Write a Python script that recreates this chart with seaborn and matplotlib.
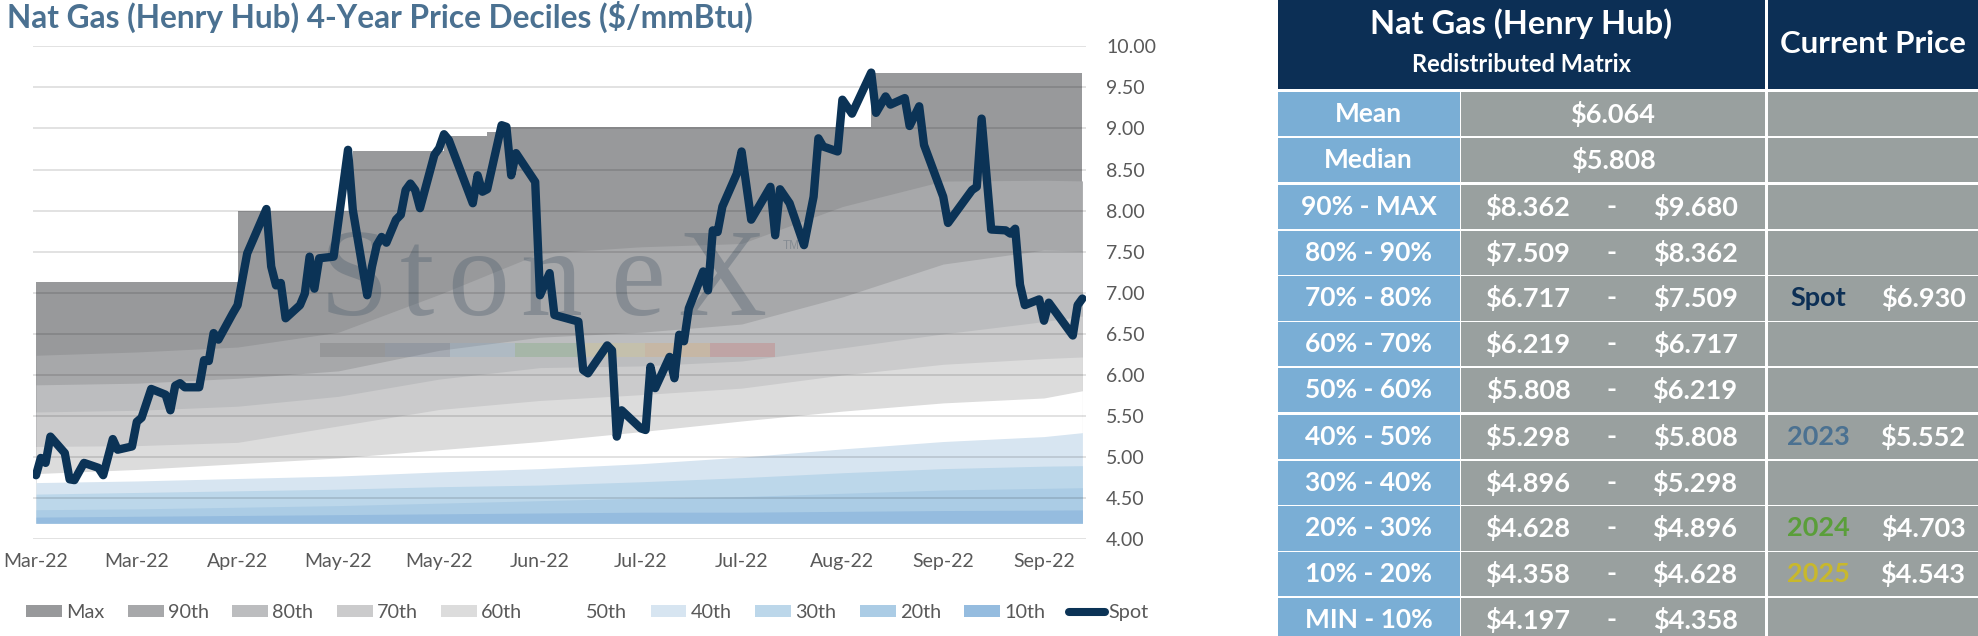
import numpy as np
import matplotlib
matplotlib.use("Agg")
import matplotlib.pyplot as plt
from matplotlib.patches import Rectangle, Patch
from matplotlib.lines import Line2D
from matplotlib.transforms import Affine2D
import seaborn as sns

# ---------------- data ----------------
title = "Nat Gas (Henry Hub) 4-Year Price Deciles ($/mmBtu)"

tick_days = [0, 21, 42, 63, 84, 105, 126, 147, 168, 189, 210]
tick_labels = ["Mar-22", "Mar-22", "Apr-22", "May-22", "May-22", "Jun-22",
               "Jul-22", "Jul-22", "Aug-22", "Sep-22", "Sep-22"]
y_ticks = [4.0, 4.5, 5.0, 5.5, 6.0, 6.5, 7.0, 7.5, 8.0, 8.5, 9.0, 9.5, 10.0]

band_days = [0, 21, 42, 63, 84, 105, 126, 147, 168, 189, 210, 218]
p90 = [6.24, 6.28, 6.34, 6.52, 6.98, 7.48, 7.56, 7.60, 8.05, 8.36, 8.37, 8.362]
p80 = [5.88, 5.90, 5.96, 6.05, 6.30, 6.46, 6.52, 6.62, 6.95, 7.35, 7.52, 7.509]
p70 = [5.55, 5.57, 5.62, 5.74, 5.95, 6.09, 6.11, 6.17, 6.33, 6.50, 6.65, 6.717]
p60 = [5.13, 5.14, 5.18, 5.38, 5.58, 5.69, 5.76, 5.84, 6.00, 6.13, 6.20, 6.219]
p50 = [4.80, 4.85, 4.92, 4.99, 5.09, 5.19, 5.31, 5.44, 5.56, 5.66, 5.72, 5.808]
p40 = [4.69, 4.71, 4.74, 4.77, 4.82, 4.86, 4.92, 5.00, 5.10, 5.19, 5.25, 5.298]
p30 = [4.55, 4.57, 4.59, 4.61, 4.64, 4.66, 4.70, 4.75, 4.81, 4.86, 4.89, 4.896]
p20 = [4.36, 4.37, 4.39, 4.41, 4.44, 4.47, 4.50, 4.52, 4.56, 4.60, 4.62, 4.628]
p10 = [4.27, 4.28, 4.29, 4.30, 4.31, 4.32, 4.33, 4.33, 4.34, 4.35, 4.355, 4.358]
p_min = [4.197, 4.197, 4.197, 4.197, 4.197, 4.197, 4.197, 4.197, 4.197, 4.197, 4.197, 4.197]

max_days = [0, 42, 66, 85, 94, 96, 174, 218]
max_vals = [7.13, 8.00, 8.73, 8.91, 8.96, 9.02, 9.68, 9.68]

spot_days = [0, 1, 2, 3, 6, 7, 8, 10, 13, 14,
             16, 17, 20, 21, 22, 24, 27, 28, 29, 30,
             31, 34, 35, 36, 37, 38, 41, 42, 44, 48,
             49, 50, 51, 52, 55, 56, 57, 58, 59, 62,
             65, 66, 69, 70, 71, 72, 73, 75, 76, 77,
             78, 79, 80, 83, 84, 85, 86, 91, 92, 93,
             94, 97, 98, 99, 100, 104, 105, 107, 108, 113,
             114, 115, 119, 120, 121, 122, 126, 127, 128, 129,
             132, 133, 134, 135, 136, 139, 140, 141, 142, 143,
             146, 147, 149, 153, 154, 155, 157, 160, 162, 163,
             164, 167, 168, 170, 174, 175, 177, 178, 181, 182,
             184, 185, 189, 190, 195, 196, 197, 199, 202, 203,
             204, 205, 206, 209, 210, 211, 216, 217, 218]
spot_vals = [4.78, 4.99, 4.93, 5.25, 5.05, 4.73, 4.72, 4.93, 4.87, 4.78,
             5.22, 5.09, 5.13, 5.43, 5.48, 5.83, 5.76, 5.57, 5.87, 5.90,
             5.85, 5.85, 6.18, 6.17, 6.51, 6.43, 6.75, 6.85, 7.48, 8.02,
             7.32, 7.09, 7.12, 6.69, 6.85, 6.99, 7.44, 7.05, 7.42, 7.44,
             8.74, 8.01, 6.97, 7.32, 7.58, 7.68, 7.61, 7.89, 7.95, 8.25,
             8.33, 8.25, 8.03, 8.68, 8.76, 8.93, 8.86, 8.09, 8.43, 8.23,
             8.26, 9.04, 9.02, 8.43, 8.70, 8.35, 6.97, 7.24, 6.73, 6.65,
             6.06, 6.02, 6.36, 6.30, 5.25, 5.57, 5.35, 5.33, 6.10, 5.84,
             6.22, 5.96, 6.49, 6.41, 6.81, 7.26, 7.03, 7.76, 7.74, 8.05,
             8.45, 8.72, 7.89, 8.29, 7.70, 8.26, 8.09, 7.58, 8.17, 8.88,
             8.78, 8.72, 9.35, 9.18, 9.68, 9.19, 9.39, 9.29, 9.37, 9.03,
             9.27, 8.80, 8.17, 7.85, 8.25, 8.29, 9.12, 7.77, 7.76, 7.72,
             7.78, 7.10, 6.85, 6.92, 6.66, 6.88, 6.48, 6.85, 6.93]

legend_labels = ["Max", "90th", "80th", "70th", "60th", "50th",
                 "40th", "30th", "20th", "10th", "Spot"]

# table data
table_title = "Nat Gas (Henry Hub)"
table_subtitle = "Redistributed Matrix"
table_cur_title = "Current Price"
row_labels = ["Mean", "Median", "90% - MAX", "80% - 90%", "70% - 80%", "60% - 70%",
              "50% - 60%", "40% - 50%", "30% - 40%", "20% - 30%", "10% - 20%", "MIN - 10%"]
mean_value = 6.064
median_value = 5.808
range_low = [8.362, 7.509, 6.717, 6.219, 5.808, 5.298, 4.896, 4.628, 4.358, 4.197]
range_high = [9.680, 8.362, 7.509, 6.717, 6.219, 5.808, 5.298, 4.896, 4.628, 4.358]
current_names = ["Spot", "2023", "2024", "2025"]
current_values = [6.930, 5.552, 4.703, 4.543]
current_rows = ["70% - 80%", "40% - 50%", "20% - 30%", "10% - 20%"]
current_colors = ["#0c2f55", "#4b7191", "#5a9e3a", "#c8b82c"]

# ---------------- style ----------------
sns.set_theme(style="white")
plt.rcParams["font.family"] = ["Lato", "DejaVu Sans"]

W, H = 1978, 636
fig = plt.figure(figsize=(W / 100, H / 100), dpi=100)
fig.patch.set_facecolor("white")
px = Affine2D().scale(1.0 / W, -1.0 / H).translate(0, 1) + fig.transFigure

navy = "#0b3356"
grey_txt = "#595959"
c_max, c90, c80, c70, c60 = "#98999b", "#a7a8aa", "#bcbdbf", "#cbcbcc", "#dcdcdc"
c50 = "#ffffff"
c40, c30, c20, c10 = "#d7e5f1", "#bcd7ea", "#abcce5", "#95bcdf"

ax = fig.add_axes([33 / W, 1 - 539.3 / H, (1086 - 33) / W, (539.3 - 46.3) / H])
ax.set_facecolor("white")

# Max band (step series), then the decile layers painted on top
ax.fill_between(max_days, p_min[0], max_vals, step="post", color=c_max, lw=0, zorder=1)
layers = [(p90, c90), (p80, c80), (p70, c70), (p60, c60), (p50, c50),
          (p40, c40), (p30, c30), (p20, c20), (p10, c10)]
for vals, col in layers:
    ax.fill_between(band_days, p_min, vals, color=col, lw=0, zorder=1)

# watermark
wm_letters = ["S", "t", "o", "n", "e", "X"]
wm_x = [320, 400, 447, 520, 610, 677]
for ch, xx in zip(wm_letters, wm_x):
    ax.text(xx, 315, ch, transform=px, fontsize=89, family="Liberation Serif",
            color="#4d5d6c", alpha=0.36, ha="left", va="baseline", zorder=2)
ax.text(783, 249, "TM", transform=px, fontsize=8.5, family="Liberation Sans",
        color="#4d5d6c", alpha=0.36, ha="left", va="baseline", zorder=2)
bar_cols = ["#555555", "#4a5f80", "#7fb0d8", "#4f9a4f", "#e8d060", "#f0a040", "#d04040"]
for i, bc in enumerate(bar_cols):
    ax.add_patch(Rectangle((320 + 65 * i, 343), 65, 14, transform=px,
                           facecolor=bc, edgecolor="none", alpha=0.2, zorder=2))

# spot line
sns.lineplot(x=spot_days, y=spot_vals, ax=ax, color=navy, linewidth=6.0,
             legend=False, zorder=4)
ax.lines[-1].set_solid_joinstyle("round")
ax.lines[-1].set_solid_capstyle("round")

ax.set_xlim(-0.625, 218.75)
ax.set_ylim(4.0, 10.0)
ax.set_yticks(y_ticks)
ax.set_yticklabels([f"{v:.2f}" for v in y_ticks])
ax.yaxis.tick_right()
ax.set_xticks(tick_days)
ax.set_xticklabels(tick_labels)
ax.tick_params(axis="y", length=0, pad=14.5, labelsize=14, labelcolor=grey_txt)
ax.tick_params(axis="x", length=0, pad=10, labelsize=14, labelcolor=grey_txt)
ax.grid(axis="y", color="black", alpha=0.15, lw=1.1)
ax.grid(axis="x", visible=False)
ax.set_axisbelow(False)
for s in ax.spines.values():
    s.set_visible(False)
ax.set_xlabel("")
ax.set_ylabel("")

# legend
handles = [Patch(facecolor=c, edgecolor="none") for c in
           [c_max, c90, c80, c70, c60, c50, c40, c30, c20, c10]]
handles.append(Line2D([0], [0], color=navy, lw=5.8, solid_capstyle="round"))
fig.legend(handles, legend_labels, ncol=11, loc="center left",
           bbox_to_anchor=(26 / W, 1 - 612.7 / H), frameon=False, fontsize=14.3,
           handlelength=1.8, handleheight=0.55, handletextpad=0.2,
           columnspacing=1.2, borderaxespad=0, borderpad=0, labelcolor=grey_txt)

# title
fig.text(7 / W, 1 - 28 / H, title, fontsize=22.8, fontweight="bold",
         color="#4b7191", ha="left", va="baseline")

# ---------------- table ----------------
tax = fig.add_axes([1277 / W, 0, (W - 1277) / W, 1])
tax.set_xlim(1277, W)
tax.set_ylim(H, 0)
tax.axis("off")

hdr = "#0c2f55"
lab_blue = "#7aaed5"
val_grey = "#99a09f"
tax.add_patch(Rectangle((1277.5, 0), 1765 - 1277.5, 88.7, color=hdr, lw=0))
tax.add_patch(Rectangle((1768, 0), W - 1768, 88.7, color=hdr, lw=0))
tax.text(1521, 24, table_title, color="white", fontsize=23.5, fontweight="bold",
         ha="center", va="center")
tax.text(1521, 65, table_subtitle, color="white", fontsize=17, fontweight="bold",
         ha="center", va="center")
tax.text(1873, 44, table_cur_title, color="white", fontsize=22.5, fontweight="bold",
         ha="center", va="center")

row_h = 45.6
tfs = 19.5
for i, lab in enumerate(row_labels):
    top = 92 + i * row_h + (2 if i >= 2 else 0) + (2 if i >= 7 else 0)
    h = row_h - 1.5
    cy = top + h / 2
    tax.add_patch(Rectangle((1277.5, top), 182, h, color=lab_blue, lw=0))
    tax.add_patch(Rectangle((1461, top), 304, h, color=val_grey, lw=0))
    tax.add_patch(Rectangle((1768, top), W - 1768, h, color=val_grey, lw=0))
    tax.text(1368.5, cy, lab, color="white", fontsize=19, fontweight="bold",
             ha="center", va="center")
    if i == 0:
        tax.text(1613, cy, f"${mean_value:.3f}", color="white", fontsize=tfs,
                 fontweight="bold", ha="center", va="center")
    elif i == 1:
        tax.text(1613, cy, f"${median_value:.3f}", color="white", fontsize=tfs,
                 fontweight="bold", ha="center", va="center")
    else:
        k = i - 2
        tax.text(1528, cy, f"${range_low[k]:.3f}", color="white", fontsize=tfs,
                 fontweight="bold", ha="center", va="center")
        tax.text(1612, cy, "-", color="white", fontsize=tfs,
                 fontweight="bold", ha="center", va="center")
        tax.text(1695, cy, f"${range_high[k]:.3f}", color="white", fontsize=tfs,
                 fontweight="bold", ha="center", va="center")
    if lab in current_rows:
        j = current_rows.index(lab)
        tax.text(1818.5, cy, current_names[j], color=current_colors[j], fontsize=tfs,
                 fontweight="bold", ha="center", va="center")
        tax.text(1923, cy, f"${current_values[j]:.3f}", color="white", fontsize=tfs,
                 fontweight="bold", ha="center", va="center")

fig.savefig("out.png", dpi=100, facecolor="white")
